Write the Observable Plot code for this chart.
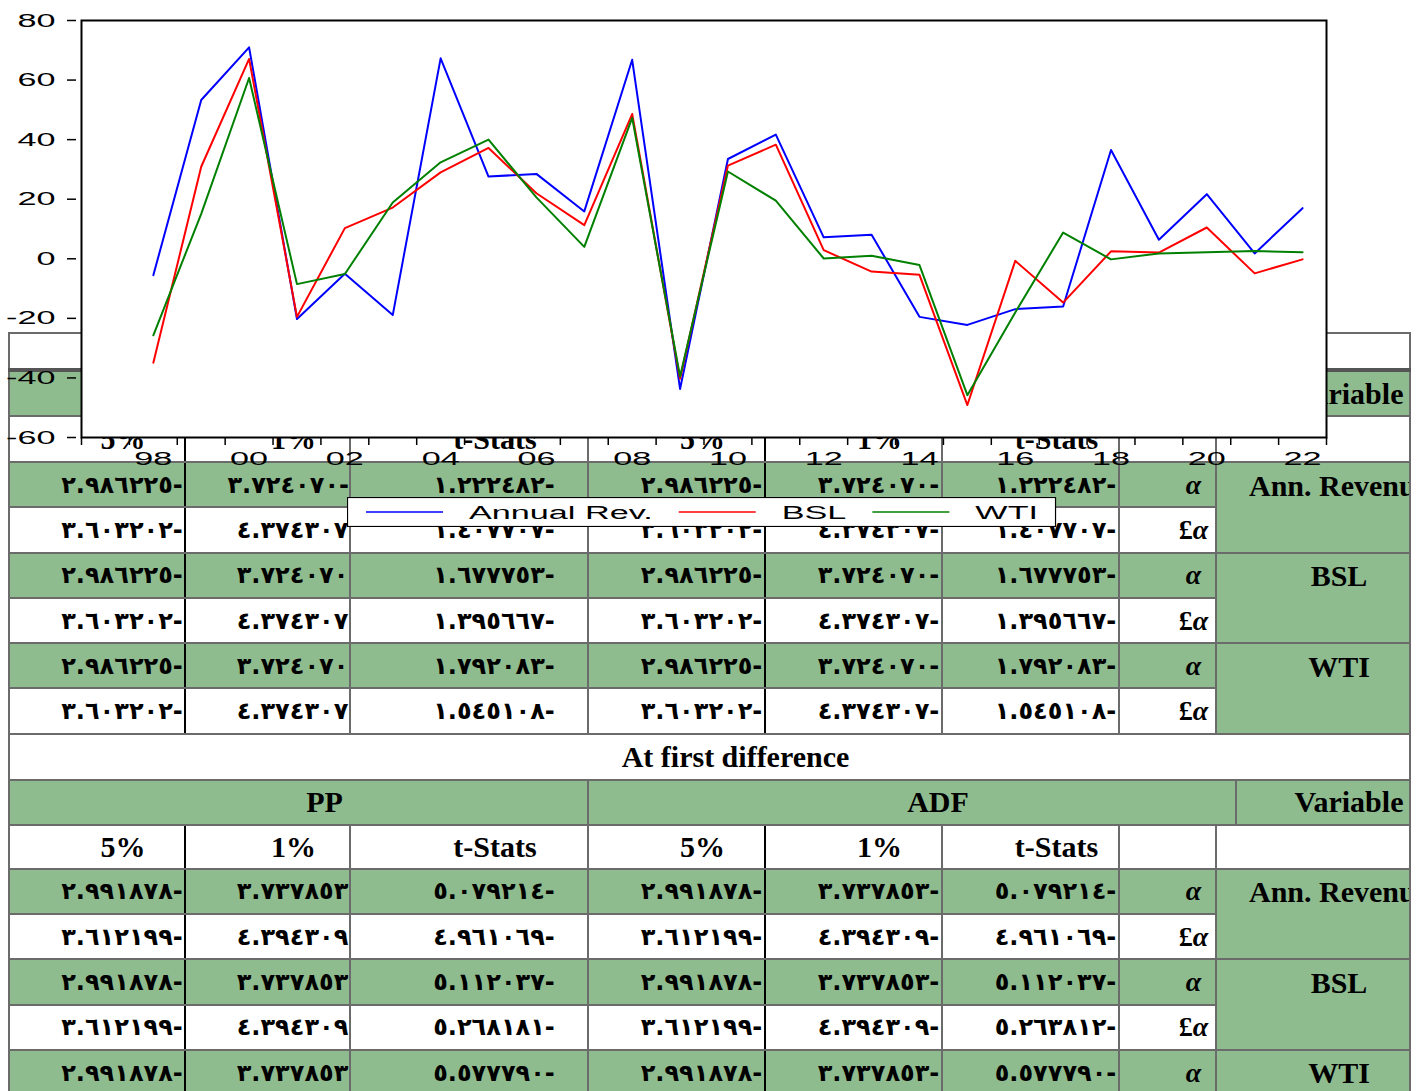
<!DOCTYPE html>
<html>
<head>
<meta charset="utf-8">
<script src="https://cdn.jsdelivr.net/npm/d3@7"></script>
<script src="https://cdn.jsdelivr.net/npm/@observablehq/plot@0.6"></script>
<style>
html,body{margin:0;padding:0;background:#fff;}
body{width:1421px;height:1091px;position:relative;overflow:hidden;}
#tbl{position:absolute;left:8px;top:332px;z-index:1;}
#tbl table{border-collapse:collapse;table-layout:fixed;width:1401px;}
#tbl td{border:2px solid #6b6b6b;padding:0;overflow:hidden;white-space:nowrap;vertical-align:middle;background:#fff;}
#tbl td.bk{border-right:2px solid #000;}
#tbl td.g{background:#8fbc8f;}
#tbl tr.thick td{border-top:4px solid #555;}
#tbl td.vt{vertical-align:top;}
.c{display:flex;justify-content:center;align-items:center;padding-left:52px;}
.c.top{height:45px;}
.cn{display:flex;direction:rtl;justify-content:safe center;align-items:center;padding-left:50px;padding-right:0;}
.hd{font:bold 30px "Liberation Serif","Times New Roman",serif;color:#000;}
.num{font:bold 24px "DejaVu Sans",sans-serif;letter-spacing:4.3px;direction:ltr;unicode-bidi:bidi-override;color:#000;}
.al{font:bold 28px "Liberation Serif","Times New Roman",serif;color:#000;}
#chart{position:absolute;left:0;top:0;z-index:2;}
#legend{position:absolute;left:347px;top:497px;z-index:3;line-height:0;}
</style>
</head>
<body>
<div id="tbl"></div>
<div id="chart"></div>
<div id="legend"></div>
<script>
// ---------- chart data ----------
const years = [1998,1999,2000,2001,2002,2003,2004,2005,2006,2007,2008,2009,2010,2011,2012,2013,2014,2015,2016,2017,2018,2019,2020,2021,2022];
const annualRev = [-5.5,53.3,71.0,-20.2,-5.0,-18.9,67.3,27.6,28.5,15.9,66.8,-43.7,33.5,41.7,7.2,8.1,-19.5,-22.2,-16.9,-16.0,36.5,6.4,21.7,1.8,17.0];
const bsl = [-34.9,30.9,67.1,-19.5,10.3,17.2,29.0,37.2,22.0,11.3,48.6,-40.3,31.3,38.3,2.9,-4.3,-5.4,-49.1,-0.7,-14.7,2.5,2.1,10.5,-4.9,-0.2];
const wti = [-25.7,15.1,60.7,-8.5,-5.1,18.9,32.4,40.0,20.6,4.0,47.3,-39.5,29.3,19.5,0.1,1.0,-2.1,-45.8,-18.0,8.8,-0.2,1.8,2.2,2.6,2.2];
const seriesNames = ["Annual Rev.", "BSL", "WTI"];
const yTicks = [-60,-40,-20,0,20,40,60,80];
const xLabelYears = [1998,2000,2002,2004,2006,2008,2010,2012,2014,2016,2018,2020,2022];
const xAxisYears = [1997, ...years]; // the axis starts one empty year before the data

// ---------- table data ----------
const sectionTitles = ["At level", "At first difference"];
const testNames = ["PP", "ADF"];
const variableHeader = "Variable";
const colHeaders = ["5%", "1%", "t-Stats"];
const variables = ["Ann. Revenue", "BSL", "WTI"];
const levelAlpha = [
  ["٢.٩٨٦٢٢٥-","٣.٧٢٤٠٧٠-","١.٢٢٢٤٨٢-","٢.٩٨٦٢٢٥-","٣.٧٢٤٠٧٠-","١.٢٢٢٤٨٢-"],
  ["٢.٩٨٦٢٢٥-","٣.٧٢٤٠٧٠","١.٦٧٧٧٥٣-","٢.٩٨٦٢٢٥-","٣.٧٢٤٠٧٠-","١.٦٧٧٧٥٣-"],
  ["٢.٩٨٦٢٢٥-","٣.٧٢٤٠٧٠","١.٧٩٢٠٨٣-","٢.٩٨٦٢٢٥-","٣.٧٢٤٠٧٠-","١.٧٩٢٠٨٣-"]
];
const levelPoundAlpha = [
  ["٣.٦٠٣٢٠٢-","٤.٣٧٤٣٠٧","١.٤٠٧٧٠٧-","٣.٦٠٣٢٠٢-","٤.٣٧٤٣٠٧-","١.٤٠٧٧٠٧-"],
  ["٣.٦٠٣٢٠٢-","٤.٣٧٤٣٠٧","١.٣٩٥٦٦٧-","٣.٦٠٣٢٠٢-","٤.٣٧٤٣٠٧-","١.٣٩٥٦٦٧-"],
  ["٣.٦٠٣٢٠٢-","٤.٣٧٤٣٠٧","١.٥٤٥١٠٨-","٣.٦٠٣٢٠٢-","٤.٣٧٤٣٠٧-","١.٥٤٥١٠٨-"]
];
const diffAlpha = [
  ["٢.٩٩١٨٧٨-","٣.٧٣٧٨٥٣","٥.٠٧٩٢١٤-","٢.٩٩١٨٧٨-","٣.٧٣٧٨٥٣-","٥.٠٧٩٢١٤-"],
  ["٢.٩٩١٨٧٨-","٣.٧٣٧٨٥٣","٥.١١٢٠٣٧-","٢.٩٩١٨٧٨-","٣.٧٣٧٨٥٣-","٥.١١٢٠٣٧-"],
  ["٢.٩٩١٨٧٨-","٣.٧٣٧٨٥٣","٥.٥٧٧٧٩٠-","٢.٩٩١٨٧٨-","٣.٧٣٧٨٥٣-","٥.٥٧٧٧٩٠-"]
];
const diffPoundAlpha = [
  ["٣.٦١٢١٩٩-","٤.٣٩٤٣٠٩","٤.٩٦١٠٦٩-","٣.٦١٢١٩٩-","٤.٣٩٤٣٠٩-","٤.٩٦١٠٦٩-"],
  ["٣.٦١٢١٩٩-","٤.٣٩٤٣٠٩","٥.٢٦٨١٨١-","٣.٦١٢١٩٩-","٤.٣٩٤٣٠٩-","٥.٢٦٣٨١٢-"]
];
const rowLabels = ["α", "£α"];

// ---------- styles ----------
const seriesColors = ["#0000ff", "#ff0000", "#008000"];
const STRETCH = 1.8;

// ---------- table ----------
(function buildTable() {
  const colW = [176,165,238,177,177,177,97,20,174];
  const dataH = 45.3;
  let h = '<table><colgroup>' + colW.map(w => `<col style="width:${w}px">`).join('') + '</colgroup>';
  const hd = t => `<div class="c"><span class="hd">${t}</span></div>`;
  const nm = t => `<div class="cn"><span class="num">${t}</span></div>`;
  const al = t => `<div class="c"><span class="al">${t.replace("α","<i>α</i>")}</span></div>`;
  const sections = [[levelAlpha, levelPoundAlpha], [diffAlpha, diffPoundAlpha]];
  sections.forEach(([A, P], s) => {
    h += `<tr style="height:${s === 0 ? 36 : 46}px"><td colspan="9">${hd(sectionTitles[s])}</td></tr>`;
    h += `<tr class="${s === 0 ? 'thick' : ''}" style="height:${s === 0 ? 46 : 45}px"><td class="g" colspan="3">${hd(testNames[0])}</td><td class="g" colspan="5">${hd(testNames[1])}</td><td class="g">${hd(variableHeader)}</td></tr>`;
    h += `<tr style="height:${s === 0 ? 46 : 44}px">` + [0,1].map(k => colHeaders.map((c, j) => `<td class="${j === 0 ? 'bk' : ''}">${hd(c)}</td>`).join('')).join('') + `<td></td><td colspan="2"></td></tr>`;
    variables.forEach((v, i) => {
      if (!A[i]) return;
      const hasP = !!P[i];
      h += `<tr style="height:${dataH}px">` + A[i].map((t, j) => `<td class="g${j === 0 || j === 3 ? ' bk' : ''}">${nm(t)}</td>`).join('') +
        `<td class="g">${al(rowLabels[0])}</td><td class="g vt" colspan="2" rowspan="${hasP ? 2 : 1}"><div class="c top"><span class="hd">${v}</span></div></td></tr>`;
      if (hasP) {
        h += `<tr style="height:${dataH}px">` + P[i].map((t, j) => `<td class="${j === 0 || j === 3 ? 'bk' : ''}">${nm(t)}</td>`).join('') +
          `<td>${al(rowLabels[1])}</td></tr>`;
      }
    });
  });
  h += '</table>';
  document.getElementById('tbl').innerHTML = h;
})();

// ---------- chart ----------
const data = [];
[annualRev, bsl, wti].forEach((vals, k) => years.forEach((year, i) => data.push({year, value: vals[i], series: seriesNames[k]})));
const xBounds = [xAxisYears[0] - 0.5, ...xAxisYears.map(y => y + 0.5)];

const chart = Plot.plot({
  width: 1421,
  height: 470,
  marginLeft: 81,
  marginRight: 95,
  marginTop: 20,
  marginBottom: 33,
  style: {background: "transparent", color: "#000", fontFamily: "'Liberation Sans', Arial, sans-serif", fontSize: "19px", overflow: "visible"},
  x: {domain: [xBounds[0], xBounds[xBounds.length - 1]]},
  y: {domain: [yTicks[0], yTicks[yTicks.length - 1]]},
  color: {domain: seriesNames, range: seriesColors},
  marks: [
    Plot.frame({fill: "white"}),
    Plot.axisY({ticks: yTicks, tickSize: 9, tickPadding: 12, dx: -5, label: null, strokeWidth: 1.5, tickFormat: d => String(d)}),
    Plot.axisX({ticks: xBounds, tickSize: 8, tickFormat: () => "", label: null, strokeWidth: 1.5}),
    Plot.axisX({ticks: xLabelYears, tickSize: 0, tickPadding: 14, label: null, tickFormat: d => String(d % 100).padStart(2, "0")}),
    Plot.line(data, {x: "year", y: "value", z: "series", stroke: "series", strokeWidth: 2}),
    Plot.frame({stroke: "#000", strokeWidth: 2})
  ]
});
document.getElementById('chart').appendChild(chart);

// widen the axis labels as in the reference (keep em offsets intact)
d3.select(chart).selectAll("text").each(function () {
  const t = d3.select(this);
  const tr = t.attr("transform");
  if (tr) {
    t.attr("transform", `${tr} scale(${STRETCH},1)`);
  } else {
    const x = t.attr("x"), y = t.attr("y");
    const nx = x != null && !/em$/.test(x) ? +x : 0;
    const ny = y != null && !/em$/.test(y) ? +y : 0;
    if (x != null && !/em$/.test(x)) t.attr("x", null);
    if (y != null && !/em$/.test(y)) t.attr("y", null);
    t.attr("transform", `translate(${nx},${ny}) scale(${STRETCH},1)`);
  }
});

// ---------- legend ----------
(function buildLegend() {
  const H = 30;
  const svg = d3.select("#legend").append("svg").attr("width", 720).attr("height", H)
    .style("font-family", "'Liberation Sans', Arial, sans-serif").style("font-size", "19px");
  const rect = svg.append("rect").attr("x", 0.5).attr("y", 0.5).attr("height", H - 1)
    .attr("fill", "#fff").attr("stroke", "#000").attr("stroke-width", 1.2);
  let x = 19, end = 0;
  seriesNames.forEach((name, i) => {
    svg.append("line").attr("x1", x).attr("x2", x + 77).attr("y1", 15).attr("y2", 15)
      .attr("stroke", seriesColors[i]).attr("stroke-width", 1.5);
    x += 77 + 26;
    const t = svg.append("text").attr("transform", `translate(${x},22) scale(${STRETCH},1)`).attr("fill", "#000").text(name);
    end = x + t.node().getComputedTextLength() * STRETCH;
    x = end + 26;
  });
  rect.attr("width", end + 17);
  svg.attr("width", end + 19);
})();
</script>
</body>
</html>
